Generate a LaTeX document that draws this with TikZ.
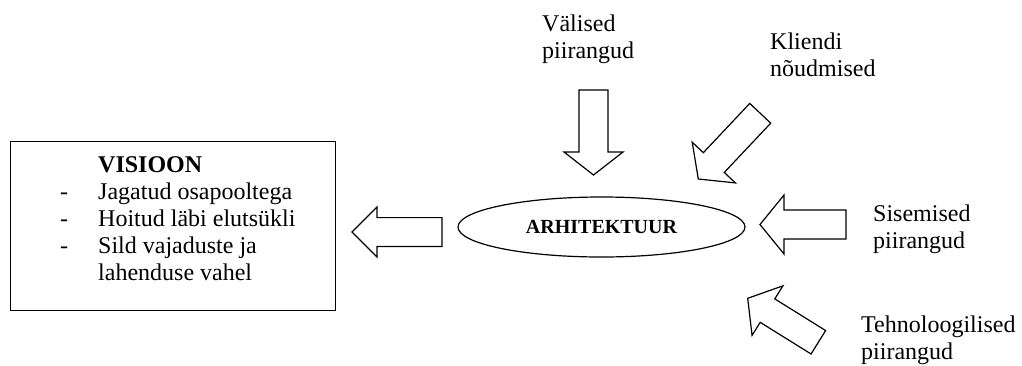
\documentclass[tikz,border=0pt]{standalone}
\usepackage{fontspec}
\setmainfont{Liberation Serif}[BoldFont={Liberation Serif Bold}]
\usetikzlibrary{shapes.geometric}

\tikzset{
  outline/.style={draw=black, line width=1.2pt, line join=miter},
  label/.style={inner sep=0pt, anchor=base west, font=\rmfamily\fontsize{24}{27}\selectfont},
  % hollow block arrow, tip at the origin, pointing along +x
  % #1 total length, #2 head length, #3 head half-width, #4 shaft half-width
  pics/blockarrow/.style n args={4}{code={
    \draw[outline, fill=white] (0,0) -- (-#2,#3) -- (-#2,#4) -- (-#1,#4)
      -- (-#1,-#4) -- (-#2,-#4) -- (-#2,-#3) -- cycle;
  }}
}

\newcommand{\twolines}[2]{\begin{tabular}[t]{@{}l@{}}#1\\#2\end{tabular}}

\begin{document}
\begin{tikzpicture}[x=1pt, y=-1pt]
\useasboundingbox (0,0) rectangle (1022,365);

% vision box
\node[outline, minimum width=325pt, minimum height=169pt, anchor=north west, inner sep=0pt]
  (visioon) at (10,141) {};
\node[label] (visiontext) at (60,172) {%
  \begin{tabular}[t]{@{}p{38pt}@{}l@{}}
    & \textbf{VISIOON}\\
  - & Jagatud osapooltega\\
  - & Hoitud läbi elutsükli\\
  - & Sild vajaduste ja\\
    & lahenduse vahel
  \end{tabular}};

% architecture
\node[outline, ellipse, minimum width=287pt, minimum height=60pt, inner sep=0pt,
      font=\rmfamily\fontsize{20}{24}\selectfont\bfseries]
  (arch) at (601.5,227) {ARHITEKTUUR};

% influences
\node[label] (valised) at (542,31) {\twolines{Välised}{piirangud}};
\node[label] (kliendi) at (770,49) {\twolines{Kliendi}{nõudmised}};
\node[label] (sisemised) at (873,221) {\twolines{Sisemised}{piirangud}};
\node[label] (tehno) at (861,332) {\twolines{Tehnoloogilised}{piirangud}};

% block arrows
\pic (toVision) at (352,232) [rotate=180] {blockarrow={90}{25}{25}{14.4}};
\pic (fromValised) at (593.5,175) [rotate=-90] {blockarrow={85}{23}{29.5}{14.5}};
\pic (fromKliendi) at (698.3,179) [rotate=-133.3] {blockarrow={90.3}{22.6}{29.7}{14.4}};
\pic (fromSisemised) at (760,224.5) [rotate=180] {blockarrow={86}{24}{29.5}{14.5}};
\pic (fromTehno) at (747.7,298.3) [rotate=148.1] {blockarrow={83.2}{23.3}{29.2}{13.8}};
\end{tikzpicture}
\end{document}
